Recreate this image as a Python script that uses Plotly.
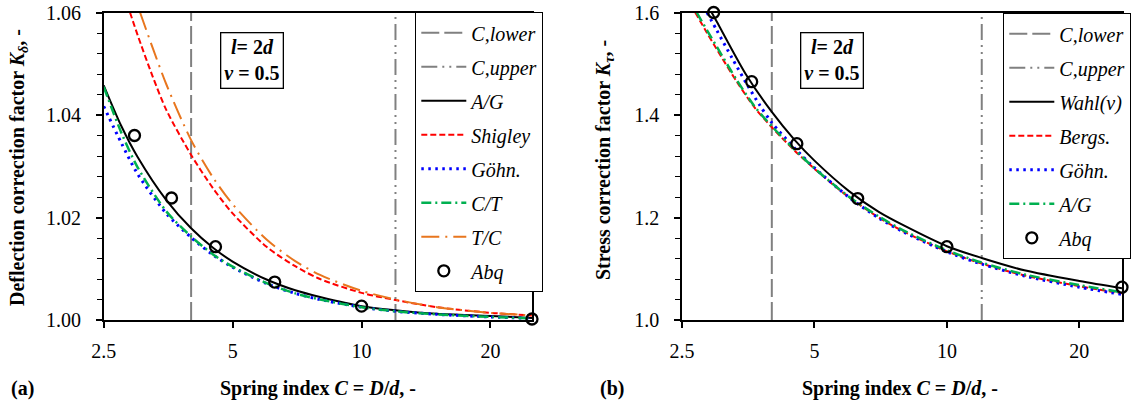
import plotly.graph_objects as go
import math

# ---------------- data ----------------
C_lower = 4.0
C_upper = 12.0
a_ylim = [1.00, 1.06]
b_ylim = [1.0, 1.6]

# Panel (a): deflection correction factor
a_C_AG = [2.5, 2.75, 3, 3.5, 4, 4.5, 5, 6, 7, 8, 10, 12, 15, 20, 25]
a_AG = [1.0458, 1.0378, 1.0318, 1.0234, 1.0179, 1.0141, 1.0114, 1.0079, 1.0058, 1.0045, 1.0027, 1.0019, 1.0012, 1.0008, 1.0004]
a_C_CT = [2.5, 2.75, 3, 3.5, 4, 4.5, 5, 6, 7, 8, 10, 12, 15, 20, 25]
a_CT = [1.0455, 1.0365, 1.0298, 1.0212, 1.0163, 1.0128, 1.0104, 1.0072, 1.0052, 1.0040, 1.0025, 1.0017, 1.0011, 1.0006, 1.0003]
a_C_Gohn = [2.5, 2.75, 3, 3.5, 4, 4.5, 5, 6, 7, 8, 10, 12, 15, 20, 25]
a_Gohn = [1.0417, 1.0345, 1.0285, 1.0208, 1.0161, 1.0127, 1.0103, 1.0071, 1.0052, 1.0040, 1.0025, 1.0017, 1.0011, 1.0006, 1.0003]
a_C_Sh = [2.88, 3, 3.25, 3.5, 4, 4.5, 5, 6, 7, 8, 10, 12, 15, 20, 25]
a_Sh = [1.0600, 1.0556, 1.0476, 1.0410, 1.0322, 1.0257, 1.0208, 1.0143, 1.0105, 1.0080, 1.0053, 1.0039, 1.0025, 1.0014, 1.0009]
a_C_TC = [3.04, 3.25, 3.5, 4, 4.5, 5, 6, 7, 8, 10, 12, 15, 20, 25]
a_TC = [1.0600, 1.0532, 1.0460, 1.0351, 1.0278, 1.0226, 1.0157, 1.0115, 1.0088, 1.0057, 1.0040, 1.0025, 1.0014, 1.0009]
C_Abq = [2.95, 3.6, 4.56, 6.27, 10.0, 25.0]
a_Abq = [1.0360, 1.0238, 1.0143, 1.0074, 1.0027, 1.0002]

# Panel (b): stress correction factor
b_C_Wahl = [2.92, 3, 3.5, 4, 4.5, 5, 6, 7, 8, 10, 12, 15, 20, 25]
b_Wahl = [1.600, 1.582, 1.478, 1.406, 1.352, 1.311, 1.251, 1.211, 1.184, 1.144, 1.121, 1.097, 1.076, 1.062]
b_C_Bergs = [2.68, 2.85, 3, 3.33, 3.66, 4, 4.5, 5, 6, 7, 8, 10, 12, 15, 20, 25]
b_Bergs = [1.600, 1.560, 1.528, 1.465, 1.414, 1.376, 1.331, 1.295, 1.239, 1.200, 1.172, 1.134, 1.110, 1.087, 1.066, 1.052]
b_C_Gohn = [2.85, 3, 3.25, 3.5, 3.75, 4, 4.5, 5, 6, 7, 8, 10, 12, 15, 20, 25]
b_Gohn = [1.600, 1.565, 1.511, 1.462, 1.420, 1.385, 1.336, 1.297, 1.239, 1.199, 1.171, 1.133, 1.109, 1.086, 1.064, 1.050]
b_C_AG = [2.70, 2.85, 3, 3.33, 3.66, 4, 4.5, 5, 6, 7, 8, 10, 12, 15, 20, 25]
b_AG = [1.600, 1.565, 1.533, 1.468, 1.416, 1.378, 1.333, 1.296, 1.240, 1.202, 1.174, 1.136, 1.112, 1.089, 1.068, 1.054]
b_Abq = [1.600, 1.465, 1.344, 1.237, 1.143, 1.064]

x_ticks = [2.5, 5, 10, 20]
x_ticktext = ["2.5", "5", "10", "20"]
a_yticks = [1.00, 1.02, 1.04, 1.06]
a_yticktext = ["1.00", "1.02", "1.04", "1.06"]
b_yticks = [1.0, 1.2, 1.4, 1.6]
b_yticktext = ["1.0", "1.2", "1.4", "1.6"]

# ---------------- styles ----------------
FONT = "Liberation Serif"
GRAY = "#808080"
RED = "#FF0000"
BLUE = "#0000FF"
GREEN = "#00B050"
ORANGE = "#E8761E"
W, H = 1137, 407

fig = go.Figure()


def line(x, y, name, color, dash, width, xa, ya, leg, group):
    fig.add_trace(go.Scatter(
        x=x, y=y, mode="lines", name=name, xaxis=xa, yaxis=ya,
        legend=leg, legendgroup=group,
        line=dict(color=color, dash=dash, width=width, shape="spline", smoothing=0.8),
    ))


def vline(xv, ylim, name, dash, xa, ya, leg, group):
    fig.add_trace(go.Scatter(
        x=[xv, xv], y=ylim, mode="lines", name=name, xaxis=xa, yaxis=ya,
        legend=leg, legendgroup=group,
        line=dict(color=GRAY, dash=dash, width=2),
    ))


def abq(x, y, xa, ya, leg, group):
    fig.add_trace(go.Scatter(
        x=x, y=y, mode="markers", name="Abq", xaxis=xa, yaxis=ya,
        legend=leg, legendgroup=group, cliponaxis=False,
        marker=dict(symbol="circle-open", size=11, color="black", line=dict(width=2.3, color="black")),
    ))


DASH_LOWER = "18px,5px"
DASH_UPPER = "16px,5px,2px,5px,2px,5px"
DASH_RED = "6px,3px"
DASH_BLUE = "2.5px,4.5px"
DASH_GREEN = "10px,4px,2px,4px"
DASH_ORANGE = "18px,6px,2px,6px"

# Panel (a)
vline(C_lower, a_ylim, "C,lower", DASH_LOWER, "x", "y", "legend", "a1")
vline(C_upper, a_ylim, "C,upper", DASH_UPPER, "x", "y", "legend", "a2")
line(a_C_AG, a_AG, "A/G", "black", "solid", 2, "x", "y", "legend", "a3")
line(a_C_Sh, a_Sh, "Shigley", RED, DASH_RED, 2, "x", "y", "legend", "a4")
line(a_C_Gohn, a_Gohn, "Göhn.", BLUE, DASH_BLUE, 3, "x", "y", "legend", "a5")
line(a_C_CT, a_CT, "C/T", GREEN, DASH_GREEN, 2.5, "x", "y", "legend", "a6")
line(a_C_TC, a_TC, "T/C", ORANGE, DASH_ORANGE, 2, "x", "y", "legend", "a7")
abq(C_Abq, a_Abq, "x", "y", "legend", "a8")

# Panel (b)
vline(C_lower, b_ylim, "C,lower", DASH_LOWER, "x2", "y2", "legend2", "b1")
vline(C_upper, b_ylim, "C,upper", DASH_UPPER, "x2", "y2", "legend2", "b2")
line(b_C_Wahl, b_Wahl, "Wahl(v)", "black", "solid", 2, "x2", "y2", "legend2", "b3")
line(b_C_Bergs, b_Bergs, "Bergs.", RED, DASH_RED, 2, "x2", "y2", "legend2", "b4")
line(b_C_Gohn, b_Gohn, "Göhn.", BLUE, DASH_BLUE, 3, "x2", "y2", "legend2", "b5")
line(b_C_AG, b_AG, "A/G", GREEN, DASH_GREEN, 2.5, "x2", "y2", "legend2", "b6")
abq(C_Abq, b_Abq, "x2", "y2", "legend2", "b7")

ytop = 1 - 12.5 / H
ybot = 1 - 320 / H

xcommon = dict(type="log", tickvals=x_ticks, ticktext=x_ticktext,
               range=[math.log10(2.5), math.log10(25)],
               ticks="outside", ticklen=6, tickwidth=1.5, tickcolor="black",
               showline=True, linecolor="black", linewidth=1.5, mirror=True,
               showgrid=False, zeroline=False, ticklabelstandoff=6,
               tickfont=dict(family=FONT, size=20, color="black"))
ycommon = dict(ticks="outside", ticklen=6, tickwidth=1.5, tickcolor="black",
               showline=True, linecolor="black", linewidth=1.5, mirror=True,
               showgrid=False, zeroline=False, ticklabelstandoff=11,
               tickfont=dict(family=FONT, size=20, color="black"))

legend_common = dict(
    bgcolor="white", bordercolor="black", borderwidth=1.3,
    font=dict(family=FONT, size=20, color="black", style="italic"),
    xanchor="left", yanchor="top", tracegroupgap=5, itemwidth=45,
    traceorder="grouped",
)

fig.update_layout(
    width=W, height=H,
    margin=dict(l=0, r=0, t=0, b=0, autoexpand=False),
    paper_bgcolor="white", plot_bgcolor="white",
    font=dict(family=FONT, color="black"),
    showlegend=True,
    xaxis=dict(domain=[103.7 / W, 532 / W], anchor="y", **xcommon),
    yaxis=dict(domain=[ybot, ytop], anchor="x", range=a_ylim, tickvals=a_yticks, ticktext=a_yticktext,
               minor=dict(dtick=0.004, tick0=1.0, ticks="outside", ticklen=5, tickcolor="black", tickwidth=1.2, showgrid=False),
               **ycommon),
    xaxis2=dict(domain=[682 / W, 1122 / W], anchor="y2", **xcommon),
    yaxis2=dict(domain=[ybot, ytop], anchor="x2", range=b_ylim, tickvals=b_yticks, ticktext=b_yticktext,
                minor=dict(dtick=0.04, tick0=1.0, ticks="outside", ticklen=5, tickcolor="black", tickwidth=1.2, showgrid=False),
                **ycommon),
    legend=dict(x=415 / W, y=1 - 12 / H, **legend_common),
    legend2=dict(x=1003 / W, y=1 - 13 / H, **legend_common),
)

tfont = dict(family=FONT, size=20, color="black")
anns = [
    dict(text="<b>Deflection correction factor <i>K</i><sub><i>δ</i></sub>, -</b>", x=18 / W, y=1 - 168 / H, textangle=-90),
    dict(text="<b>Stress correction factor <i>K</i><sub><i>τ</i></sub>, -</b>", x=605 / W, y=1 - 160 / H, textangle=-90),
    dict(text="<b>Spring index <i>C</i> = <i>D</i>/<i>d</i>, -</b>", x=318 / W, y=1 - 388 / H),
    dict(text="<b>Spring index <i>C</i> = <i>D</i>/<i>d</i>, -</b>", x=900 / W, y=1 - 388 / H),
    dict(text="<b>(a)</b>", x=22 / W, y=1 - 388 / H),
    dict(text="<b>(b)</b>", x=612 / W, y=1 - 388 / H),
]
for a in anns:
    fig.add_annotation(xref="paper", yref="paper", showarrow=False, xanchor="center", yanchor="middle",
                       font=tfont, **a)

for cx in [251.5, 831.5]:
    fig.add_annotation(xref="paper", yref="paper", x=cx / W, y=1 - 60 / H, showarrow=False,
                       xanchor="center", yanchor="middle",
                       text="<b><i>l</i>= 2<i>d</i></b><br><b><i>v</i> = 0.5</b>",
                       font=tfont, bgcolor="white", bordercolor="black", borderwidth=1.3, borderpad=3)

fig.write_html("out.html", config={"displayModeBar": False},
               post_script="document.body.style.margin='0';document.body.style.overflow='hidden';")
